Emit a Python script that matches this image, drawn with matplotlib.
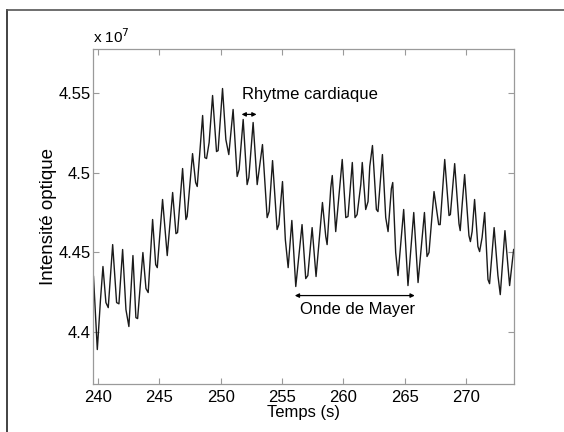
import numpy as np
import matplotlib

matplotlib.use("Agg")

import matplotlib.pyplot as plt
from matplotlib.lines import Line2D


plt.rcParams["font.family"] = ["Liberation Sans", "DejaVu Sans"]

# signal (time in s, intensity in units of 1e7)
TIME = [
    239.66, 239.97, 240.23, 240.43, 240.67, 240.86, 241.22, 241.54, 241.73, 242.03,
    242.30, 242.54, 242.87, 243.11, 243.25, 243.68, 243.93, 244.11, 244.47, 244.72,
    244.85, 245.28, 245.66, 246.10, 246.37, 246.50, 246.91, 247.18, 247.28, 247.72,
    247.97, 248.10, 248.54, 248.72, 248.86, 249.07, 249.35, 249.67, 249.80, 250.16,
    250.43, 250.67, 251.02, 251.35, 251.51, 251.84, 252.16, 252.30, 252.65, 252.98,
    253.41, 253.64, 253.79, 253.95, 254.23, 254.60, 254.74, 255.04, 255.27, 255.50,
    255.80, 256.12, 256.63, 256.93, 257.10, 257.45, 257.77, 258.29, 258.56, 258.67,
    258.97, 259.09, 259.37, 259.90, 260.19, 260.37, 260.72, 260.94, 261.11, 261.41,
    261.53, 261.81, 262.00, 262.14, 262.36, 262.68, 262.81, 263.17, 263.44, 263.63,
    263.90, 264.01, 264.25, 264.44, 264.90, 265.25, 265.72, 266.07, 266.59, 266.80,
    266.96, 267.37, 267.75, 267.87, 268.24, 268.59, 268.70, 269.05, 269.40, 269.50,
    269.66, 269.86, 270.21, 270.33, 270.47, 270.67, 270.94, 271.08, 271.28, 271.49,
    271.76, 271.89, 272.26, 272.57, 272.76, 273.14, 273.52, 273.85,
]
INTENSITY = [
    4.4347, 4.3887, 4.4202, 4.4410, 4.4183, 4.4151, 4.4548, 4.4183, 4.4175, 4.4517,
    4.4139, 4.4032, 4.4479, 4.4088, 4.4082, 4.4498, 4.4271, 4.4246, 4.4706, 4.4422,
    4.4403, 4.4832, 4.4479, 4.4876, 4.4617, 4.4624, 4.5027, 4.4706, 4.4725, 4.5121,
    4.4939, 4.4914, 4.5361, 4.5096, 4.5090, 4.5191, 4.5487, 4.5134, 4.5140, 4.5531,
    4.5210, 4.5115, 4.5399, 4.4977, 4.5021, 4.5336, 4.4926, 4.4970, 4.5317, 4.4926,
    4.5178, 4.4895, 4.4718, 4.4756, 4.5077, 4.4643, 4.4674, 4.4945, 4.4580, 4.4403,
    4.4700, 4.4284, 4.4674, 4.4334, 4.4353, 4.4655, 4.4347, 4.4813, 4.4599, 4.4548,
    4.4907, 4.4983, 4.4630, 4.5084, 4.4718, 4.4725, 4.5065, 4.4718, 4.4737, 4.4926,
    4.5065, 4.4769, 4.4819, 4.5040, 4.5172, 4.4769, 4.4756, 4.5115, 4.4718, 4.4630,
    4.4901, 4.4939, 4.4498, 4.4353, 4.4769, 4.4290, 4.4750, 4.4309, 4.4750, 4.4473,
    4.4498, 4.4882, 4.4674, 4.4674, 4.5084, 4.4731, 4.4737, 4.5058, 4.4680, 4.4636,
    4.4800, 4.4989, 4.4605, 4.4567, 4.4630, 4.4832, 4.4536, 4.4504, 4.4592, 4.4750,
    4.4328, 4.4302, 4.4655, 4.4353, 4.4233, 4.4636, 4.4290, 4.4517,
]

X_TICKS = [240, 245, 250, 255, 260, 265, 270]
Y_TICKS = [4.4, 4.45, 4.5, 4.55]
Y_TICKLABELS = ["4.4", "4.45", "4.5", "4.55"]

# annotations
HEART_SPAN = (251.71, 252.93)
HEART_Y = 4.5368
HEART_LABEL = "Rhytme cardiaque"
MAYER_SPAN = (256.04, 265.80)
MAYER_Y = 4.4227
MAYER_LABEL = "Onde de Mayer"

SPINE = "#9a9a9a"


def main():
    fig = plt.figure(figsize=(5.64, 4.32), dpi=100)
    ax = fig.add_axes([0.1649, 0.1111, 0.7465, 0.7755])

    ax.plot(TIME, INTENSITY, color="#1a1a1a", lw=1.0)

    ax.set_xlim(239.62, 273.88)
    ax.set_ylim(4.367, 4.578)
    ax.set_xticks(X_TICKS)
    ax.set_yticks(Y_TICKS)
    ax.set_yticklabels(Y_TICKLABELS)

    for spine in ax.spines.values():
        spine.set_color(SPINE)
        spine.set_linewidth(0.9)
    ax.tick_params(direction="in", top=True, right=True, length=4,
                   color=SPINE, labelsize=12)
    ax.tick_params(axis="x", pad=4)
    ax.tick_params(axis="y", pad=1.5)

    ax.set_xlabel("Temps (s)", fontsize=12, labelpad=0)
    ax.set_ylabel("Intensité optique", fontsize=13.5, labelpad=1)
    ax.text(0.0, 1.01, r"x 10$^{7}$", transform=ax.transAxes,
            fontsize=11, ha="left", va="bottom")

    arrow = dict(arrowstyle="<|-|>", color="black", lw=0.9,
                 mutation_scale=6, shrinkA=0, shrinkB=0)
    ax.annotate("", xy=(HEART_SPAN[0], HEART_Y), xytext=(HEART_SPAN[1], HEART_Y),
                arrowprops=arrow)
    ax.text(HEART_SPAN[0], 4.5494, HEART_LABEL, fontsize=12, ha="left", va="center")

    ax.annotate("", xy=(MAYER_SPAN[0], MAYER_Y), xytext=(MAYER_SPAN[1], MAYER_Y),
                arrowprops=arrow)
    ax.text(261.12, 4.4139, MAYER_LABEL, fontsize=12, ha="center", va="center")

    # partial outer frame, left and top only
    fig.add_artist(Line2D([7 / 564, 7 / 564], [0, 1 - 10 / 432],
                          transform=fig.transFigure, color="#222222", lw=1.2))
    fig.add_artist(Line2D([7 / 564, 1], [1 - 10 / 432, 1 - 10 / 432],
                          transform=fig.transFigure, color="#555555", lw=1.2))

    fig.savefig("out.png", dpi=100)
    plt.close(fig)


if __name__ == "__main__":
    main()
